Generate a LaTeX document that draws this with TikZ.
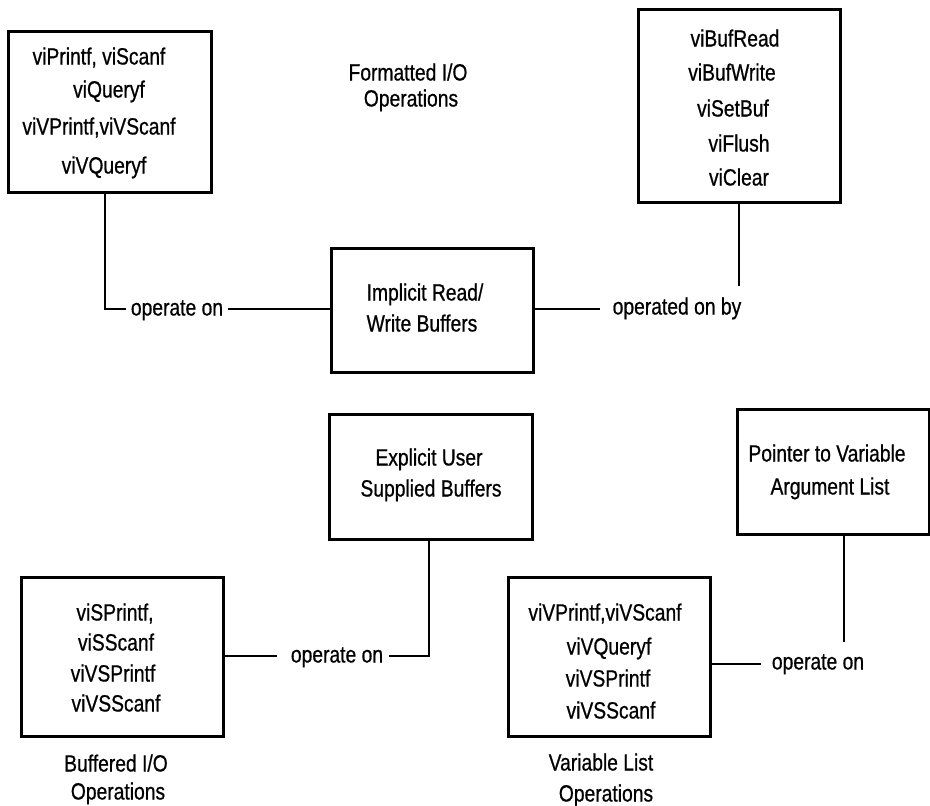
\documentclass[tikz,border=0pt]{standalone}
\usepackage{fontspec}
\setmainfont[FakeStretch=0.82,FakeBold=0.7]{Liberation Sans}
\begin{document}
\begin{tikzpicture}[x=1pt,y=-1pt,
  box/.style={draw, line width=3pt, inner sep=0pt, fill=none},
  wire/.style={line width=2pt},
  txt/.style={font=\fontsize{23.5}{28}\selectfont, inner sep=0pt,
              text height=17pt, text depth=0pt, anchor=center}]
\useasboundingbox (0,0) rectangle (930,806);

% ---------- boxes ----------
\node[box, minimum width=203pt, minimum height=161pt] (fmt)  at (109.5,111.5) {};
\node[box, minimum width=202pt, minimum height=193pt] (bufops) at (739,105.5) {};
\node[box, minimum width=202pt, minimum height=124pt] (impl) at (432,310) {};
\node[box, minimum width=203pt, minimum height=125pt] (expl) at (430.5,476.5) {};
\node[box, minimum width=192pt, minimum height=125pt] (ptr)  at (833,471.5) {};
\node[box, minimum width=202pt, minimum height=159pt] (sbuf) at (122,656.5) {};
\node[box, minimum width=202pt, minimum height=159pt] (vlist) at (609,656.5) {};

% ---------- box contents ----------
\node[txt] (f1) at (99,56)  {viPrintf, viScanf};
\node[txt] (f2) at (109,89) {viQueryf};
\node[txt] (f3) at (99,126) {viVPrintf,viVScanf};
\node[txt] (f4) at (104,165) {viVQueryf};

\node[txt] (b1) at (735,38)  {viBufRead};
\node[txt] (b2) at (732,72)  {viBufWrite};
\node[txt] (b3) at (733,108) {viSetBuf};
\node[txt] (b4) at (739,143) {viFlush};
\node[txt] (b5) at (739,177) {viClear};

\node[txt] (i1) at (425,292) {Implicit Read/};
\node[txt] (i2) at (422,323) {Write Buffers};

\node[txt] (e1) at (429,457) {Explicit User};
\node[txt] (e2) at (431,488) {Supplied Buffers};

\node[txt] (p1) at (827,453) {Pointer to Variable};
\node[txt] (p2) at (830,486) {Argument List};

\node[txt] (s1) at (115,612) {viSPrintf,};
\node[txt] (s2) at (116,642) {viSScanf};
\node[txt] (s3) at (113,673) {viVSPrintf};
\node[txt] (s4) at (116,703) {viVSScanf};

\node[txt] (v1) at (605,612) {viVPrintf,viVScanf};
\node[txt] (v2) at (609,646) {viVQueryf};
\node[txt] (v3) at (608,678) {viVSPrintf};
\node[txt] (v4) at (611,710) {viVSScanf};

% ---------- captions ----------
\node[txt] (cf1) at (408,72) {Formatted I/O};
\node[txt] (cf2) at (411,98) {Operations};
\node[txt] (cb1) at (116,763) {Buffered I/O};
\node[txt] (cb2) at (118,791) {Operations};
\node[txt] (cv1) at (601,762) {Variable List};
\node[txt] (cv2) at (606,793) {Operations};

% ---------- connector labels ----------
\node[txt] (op1) at (177,307) {operate on};
\node[txt] (op2) at (677,306) {operated on by};
\node[txt] (op3) at (337,654) {operate on};
\node[txt] (op4) at (818,661) {operate on};

\coordinate (k1) at (105,309);
\coordinate (k2) at (739,286);
\coordinate (k3) at (429,656);
\coordinate (k4) at (844,642);
\coordinate (h4) at (0,664);
\coordinate (h2) at (0,309);

% ---------- connectors ----------
\draw[wire] (fmt.south -| k1) -- (k1) -- ([xshift=-5pt]op1.west |- k1);
\draw[wire] ([xshift=5pt]op1.east |- k1) -- (impl.west |- k1);

\draw[wire] (impl.east |- h2) -- ([xshift=-13pt]op2.west |- h2);
\draw[wire] (bufops.south -| k2) -- (k2);

\draw[wire] (sbuf.east |- k3) -- ([xshift=-14pt]op3.west |- k3);
\draw[wire] ([xshift=6pt]op3.east |- k3) -- (k3) -- (expl.south -| k3);

\draw[wire] (vlist.east |- h4) -- ([xshift=-11pt]op4.west |- h4);
\draw[wire] (ptr.south -| k4) -- (k4);
\end{tikzpicture}
\end{document}
